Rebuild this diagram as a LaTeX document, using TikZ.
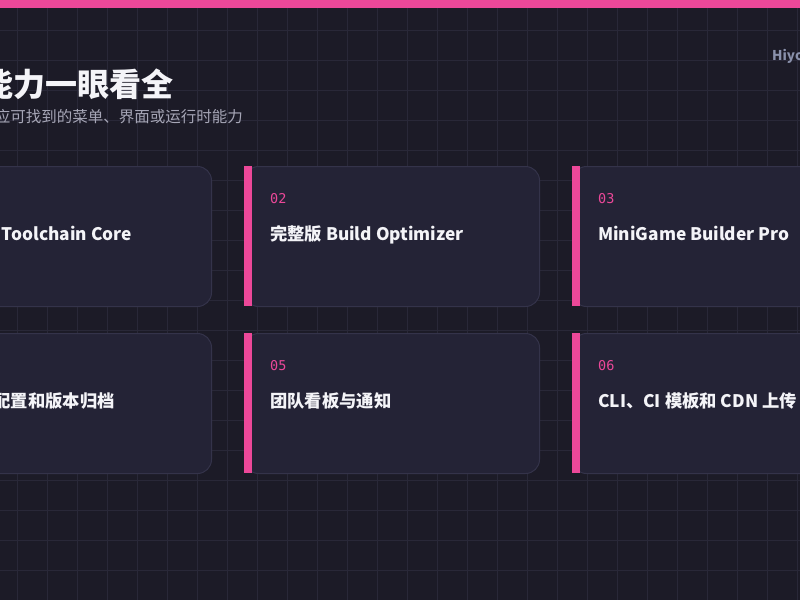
\documentclass[tikz,border=0pt]{standalone}
\usepackage{fontspec}
\setmainfont{Noto Sans CJK SC}
\setmonofont{DejaVu Sans Mono}
\definecolor{bgc}{HTML}{1C1B27}
\definecolor{gridc}{HTML}{292838}
\definecolor{cardc}{HTML}{242336}
\definecolor{borderc}{HTML}{34334A}
\definecolor{pinkc}{HTML}{EC4899}
\definecolor{titlec}{HTML}{F4F4F8}
\definecolor{subc}{HTML}{A6A6B6}
\definecolor{hiyoc}{HTML}{8A91AB}
\tikzset{
  card/.style={draw=borderc, line width=1pt, fill=cardc, rounded corners=14pt,
    minimum width=295pt, minimum height=140pt, inner sep=0pt, anchor=north west},
  numtext/.style={text=pinkc, font=\ttfamily\fontsize{13.5}{15}\selectfont, inner sep=0pt, anchor=base west},
  cardtitle/.style={text=titlec, font=\bfseries\fontsize{17.3}{20}\selectfont, inner sep=0pt},
  accent/.style={fill=pinkc}
}
\begin{document}
\begin{tikzpicture}[x=1pt,y=-1pt]
\useasboundingbox (0,0) rectangle (800,600);
\clip (0,0) rectangle (800,600);
\fill[bgc] (0,0) rectangle (800,600);
% grid
\foreach \k in {0,...,26} {
  \draw[gridc, line width=1pt] ({17.3+30*\k},0) -- ({17.3+30*\k},600);
}
\foreach \k in {1,...,19} {
  \draw[gridc, line width=1pt] (0,{30*\k}) -- (800,{30*\k});
}
% top bar
\fill[pinkc] (0,0) rectangle (800,8);
% header
\node[text=titlec, font=\bfseries\fontsize{32}{36}\selectfont, inner sep=0pt, anchor=base east] (title) at (174,96) {能力一眼看全};
\node[text=subc, font=\fontsize{15.5}{18}\selectfont, inner sep=0pt, anchor=base east] (subtitle) at (243,122) {应可找到的菜单、界面或运行时能力};
\node[text=hiyoc, font=\bfseries\fontsize{13.5}{16}\selectfont, inner sep=0pt, anchor=base west] (brand) at (772,60) {Hiyo};
% cards row 1
\node[card] (c1) at (-84,166) {};
\fill[accent] (-84,166) rectangle (-76,306);
\node[cardtitle, anchor=base west] (t1) at (1.5,240) {Toolchain Core};

\node[card] (c2) at (244,166) {};
\fill[accent] (244,166) rectangle (252,306);
\node[numtext] (n2) at (270,203.5) {02};
\node[cardtitle, anchor=base west] (t2) at (270,240) {完整版 Build Optimizer};

\node[card] (c3) at (572,166) {};
\fill[accent] (572,166) rectangle (580,306);
\node[numtext] (n3) at (598,203.5) {03};
\node[cardtitle, anchor=base west] (t3) at (598,240) {MiniGame Builder Pro};
% cards row 2
\node[card] (c4) at (-84,333) {};
\fill[accent] (-84,333) rectangle (-76,473);
\node[cardtitle, anchor=base east] (t4) at (115,407) {配置和版本归档};

\node[card] (c5) at (244,333) {};
\fill[accent] (244,333) rectangle (252,473);
\node[numtext] (n5) at (270,370.5) {05};
\node[cardtitle, anchor=base west] (t5) at (270,407) {团队看板与通知};

\node[card] (c6) at (572,333) {};
\fill[accent] (572,333) rectangle (580,473);
\node[numtext] (n6) at (598,370.5) {06};
\node[cardtitle, anchor=base west] (t6) at (598,407) {CLI、CI 模板和 CDN 上传};
\end{tikzpicture}
\end{document}
